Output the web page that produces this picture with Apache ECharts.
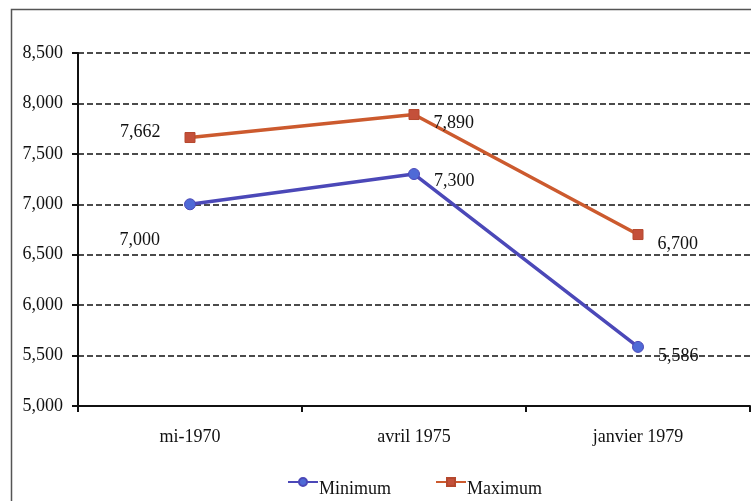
<!DOCTYPE html>
<html>
<head>
<meta charset="utf-8">
<script src="https://cdn.jsdelivr.net/npm/echarts@6/dist/echarts.min.js"></script>
<style>html,body{margin:0;padding:0;background:#fff}#c{width:751px;height:501px}</style>
</head>
<body>
<div id="c"></div>
<script>
const categories = ['mi-1970', 'avril 1975', 'janvier 1979'];
const minimumValues = [7000, 7300, 5586];
const maximumValues = [7662, 7890, 6700];
const yTicks = { min: 5000, max: 8500, interval: 500 };

const fmt = v => Number(v).toLocaleString('en-US');
const font = 'Liberation Serif';
const fs = 18;

const maxLabelCfg = [
  { position: 'left', distance: 24, offset: [0, -5] },
  { position: 'right', distance: 14, offset: [0, 9] },
  { position: 'right', distance: 14, offset: [0, 10] }
];
const minLabelCfg = [
  { position: 'left', distance: 24, offset: [0, 36] },
  { position: 'right', distance: 14, offset: [0, 7] },
  { position: 'right', distance: 14, offset: [0, 9] }
];

function buildData(vals, cfgs) {
  return vals.map((v, i) => ({
    value: v,
    label: Object.assign({ show: true, formatter: p => fmt(p.value), color: '#111', fontFamily: font, fontSize: fs }, cfgs[i])
  }));
}

const chart = echarts.init(document.getElementById('c'), null, { renderer: 'canvas' });
chart.setOption({
  animation: false,
  backgroundColor: '#fff',
  graphic: [{
    type: 'rect', left: 9, top: 7, shape: { width: 760, height: 520 },
    style: { fill: 'none', stroke: '#555', lineWidth: 1.5 }, silent: true, z: 100
  }],
  grid: { left: 78, right: 1, top: 53, bottom: 95, containLabel: false },
  xAxis: {
    type: 'category',
    data: categories,
    boundaryGap: true,
    axisLine: { lineStyle: { color: '#111', width: 2 } },
    axisTick: { show: true, length: 6, lineStyle: { color: '#111', width: 2 } },
    axisLabel: { color: '#111', fontFamily: font, fontSize: fs, margin: 22 }
  },
  yAxis: {
    type: 'value',
    min: yTicks.min, max: yTicks.max, interval: yTicks.interval,
    axisLine: { show: true, lineStyle: { color: '#111', width: 2 } },
    axisTick: { show: true, length: 6, lineStyle: { color: '#111', width: 2 } },
    axisLabel: { color: '#111', fontFamily: font, fontSize: fs, margin: 15, formatter: fmt },
    splitLine: { show: true, lineStyle: { color: '#111', width: 1.5, type: [6, 3] } }
  },
  legend: {
    left: 282, top: 472,
    itemWidth: 30, itemHeight: 10, itemGap: 44,
    formatter: '{a|{name}}',
    textStyle: {
      color: '#111', fontFamily: font, fontSize: fs,
      rich: { a: { color: '#111', fontFamily: font, fontSize: fs, padding: [14, 0, 0, -4] } }
    },
    data: ['Minimum', 'Maximum']
  },
  series: [
    {
      name: 'Minimum', type: 'line',
      data: buildData(minimumValues, minLabelCfg),
      symbol: 'circle', symbolSize: 11,
      lineStyle: { color: '#4b48b8', width: 3.5 },
      itemStyle: { color: '#4f6ad6', borderColor: '#4b48b8', borderWidth: 1 }
    },
    {
      name: 'Maximum', type: 'line',
      data: buildData(maximumValues, maxLabelCfg),
      symbol: 'rect', symbolSize: 10,
      lineStyle: { color: '#cc5a2e', width: 3.5 },
      itemStyle: { color: '#c4503a', borderColor: '#b5482e', borderWidth: 1 }
    }
  ]
});
</script>
</body>
</html>
